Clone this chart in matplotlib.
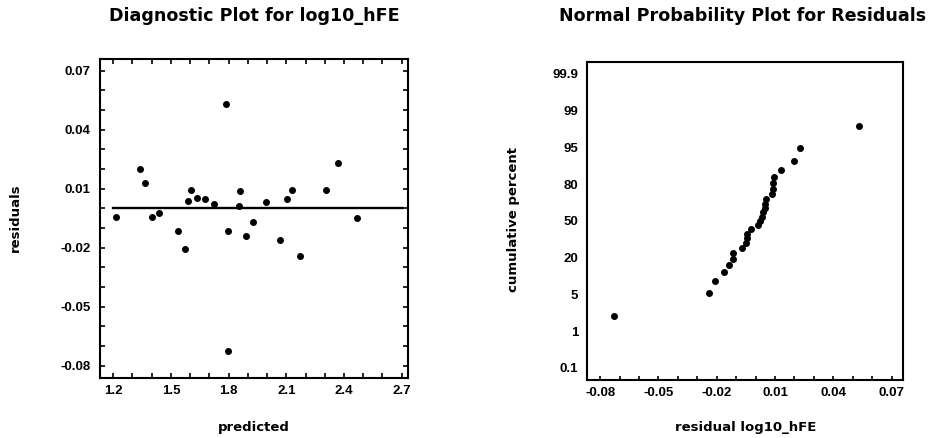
import matplotlib
matplotlib.use("Agg")
import matplotlib.pyplot as plt
from matplotlib.ticker import MultipleLocator
from statistics import NormalDist

plt.rcParams['font.family'] = ['Liberation Sans', 'DejaVu Sans']
plt.rcParams['font.weight'] = 'bold'

# values
predicted = [1.216, 1.337, 1.366, 1.403, 1.436, 1.536, 1.573, 1.587, 1.604,
             1.635, 1.679, 1.725, 1.788, 1.795, 1.798, 1.856, 1.861, 1.889,
             1.928, 1.993, 2.067, 2.105, 2.130, 2.171, 2.305, 2.367, 2.470]
residuals = [-0.0044, 0.0198, 0.0129, -0.0044, -0.0024, -0.0114, -0.0207, 0.0039, 0.0092,
             0.0053, 0.0049, 0.0022, 0.0532, -0.0114, -0.0727, 0.0010, 0.0086, -0.0139,
             -0.0071, 0.0031, -0.0163, 0.0046, 0.0095, -0.0242, 0.0092, 0.0231, -0.0049]

pred_ticks = [1.2, 1.5, 1.8, 2.1, 2.4, 2.7]
resid_ticks = [-0.08, -0.05, -0.02, 0.01, 0.04, 0.07]
prob_labels = ["0.1", "1", "5", "20", "50", "80", "95", "99", "99.9"]

W, H = 939, 438
fig = plt.figure(figsize=(W / 100, H / 100), dpi=100)

head = dict(family='DejaVu Sans', fontweight='bold', fontsize=12.6)
lab = dict(family='DejaVu Sans', fontweight='bold', fontsize=9.5)
TICK = 9.5

# ---- left: residuals vs predicted
ax1 = fig.add_axes([100 / W, 1 - 378.3 / H, 308 / W, 319 / H])
ax1.scatter(predicted, residuals, s=16, color='black', zorder=3)
ax1.plot([pred_ticks[0], pred_ticks[-1]], [0, 0], color='black', lw=1.7)
ax1.set_xlim(1.131, 2.733)
ax1.set_ylim(-0.0864, 0.0758)
ax1.set_xticks(pred_ticks)
ax1.set_xticklabels([f"{v:g}" for v in pred_ticks])
ax1.set_yticks(resid_ticks)
ax1.set_yticklabels([f"{v:g}" for v in resid_ticks])
ax1.xaxis.set_minor_locator(MultipleLocator(0.1))
ax1.yaxis.set_minor_locator(MultipleLocator(0.01))
ax1.tick_params(which='both', direction='in', top=True, right=True,
                length=3.5, width=1.2, labelsize=TICK)
ax1.tick_params(axis='x', pad=5)
ax1.tick_params(axis='y', pad=7)
for sp in ax1.spines.values():
    sp.set_linewidth(1.5)

fig.text(254 / W, 1 - 21 / H, "Diagnostic Plot for log10_hFE", ha='center', va='baseline', **head)
fig.text(254 / W, 1 - 431 / H, "predicted", ha='center', va='baseline', **lab)
fig.text(15 / W, 1 - 218 / H, "residuals", ha='center', va='center', rotation=90, **lab)

# ---- right: normal probability plot
n = len(residuals)
sorted_res = sorted(residuals)
z = [NormalDist().inv_cdf((i + 0.5) / n) for i in range(n)]

ax2 = fig.add_axes([586.7 / W, 1 - 380 / H, 316.6 / W, 318.3 / H])
ax2.scatter(sorted_res, z, s=16, color='black', zorder=3)
ax2.set_xlim(-0.0869, 0.076)
ax2.set_ylim(-3.5, 3.5)
ax2.set_xticks(resid_ticks)
ax2.set_xticklabels([f"{v:g}" for v in resid_ticks])
ax2.xaxis.set_minor_locator(MultipleLocator(0.01))
# labels sit evenly spaced on this chart's probability axis
ax2.set_yticks([(k - 4) * 0.808 for k in range(len(prob_labels))])
ax2.set_yticklabels(prob_labels)
ax2.tick_params(which='both', axis='x', direction='in', length=3, width=1.2,
                labelsize=TICK, pad=5)
ax2.tick_params(axis='y', length=0, labelsize=TICK, pad=6)
for sp in ax2.spines.values():
    sp.set_linewidth(1.5)

fig.text(743 / W, 1 - 21 / H, "Normal Probability Plot for Residuals", ha='center', va='baseline', **head)
fig.text(746 / W, 1 - 431 / H, "residual log10_hFE", ha='center', va='baseline', **lab)
fig.text(513 / W, 1 - 220 / H, "cumulative percent", ha='center', va='center', rotation=90, **lab)

fig.savefig("out.png", dpi=100)
